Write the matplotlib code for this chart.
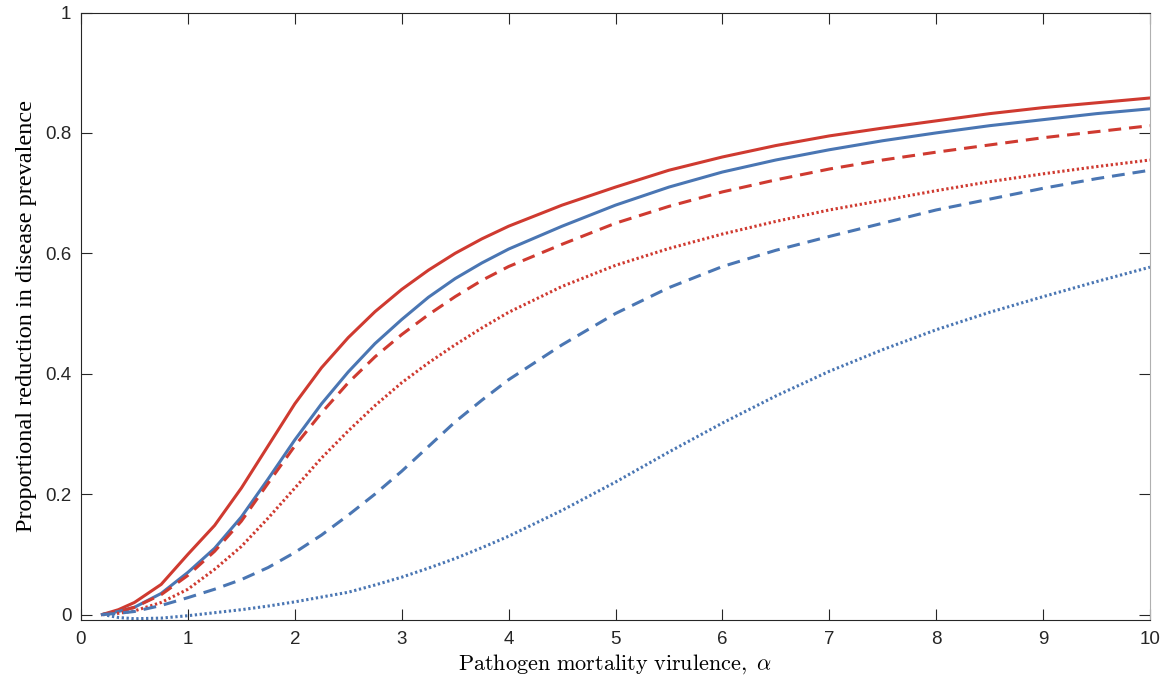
import numpy as np
import matplotlib.pyplot as plt

# virulence values (x) shared by every curve
alpha = [0.2, 0.35, 0.5, 0.75, 1.0, 1.25, 1.5, 1.75, 2.0, 2.25, 2.5, 2.75, 3.0, 3.25,
         3.5, 3.75, 4.0, 4.5, 5.0, 5.5, 6.0, 6.5, 7.0, 7.5, 8.0, 8.5, 9.0, 9.5, 10.0]

red_solid = [0.0, 0.008, 0.02, 0.05, 0.10, 0.148, 0.21, 0.28, 0.35, 0.41, 0.46, 0.503, 0.54,
             0.572, 0.60, 0.624, 0.645, 0.68, 0.71, 0.738, 0.76, 0.779, 0.795, 0.808, 0.82,
             0.832, 0.842, 0.85, 0.858]
blue_solid = [0.0, 0.005, 0.012, 0.035, 0.07, 0.11, 0.162, 0.225, 0.29, 0.35, 0.403, 0.45, 0.49,
              0.527, 0.558, 0.584, 0.607, 0.645, 0.68, 0.71, 0.735, 0.755, 0.772, 0.787, 0.80,
              0.812, 0.822, 0.832, 0.84]
red_dashed = [0.0, 0.005, 0.012, 0.033, 0.065, 0.105, 0.155, 0.218, 0.28, 0.335, 0.385, 0.428, 0.465,
              0.498, 0.528, 0.555, 0.578, 0.615, 0.65, 0.678, 0.702, 0.722, 0.74, 0.755, 0.768,
              0.78, 0.792, 0.802, 0.812]
red_dotted = [0.0, 0.002, 0.006, 0.02, 0.042, 0.075, 0.113, 0.16, 0.21, 0.26, 0.305, 0.347, 0.385,
              0.418, 0.448, 0.476, 0.502, 0.545, 0.58, 0.608, 0.632, 0.653, 0.672, 0.688, 0.704,
              0.719, 0.732, 0.744, 0.755]
blue_dashed = [0.0, 0.002, 0.005, 0.015, 0.028, 0.042, 0.058, 0.078, 0.103, 0.132, 0.165, 0.20,
               0.238, 0.279, 0.32, 0.356, 0.39, 0.448, 0.50, 0.543, 0.578, 0.605, 0.628, 0.65,
               0.672, 0.69, 0.708, 0.724, 0.738]
blue_dotted = [0.0, -0.005, -0.007, -0.006, -0.002, 0.003, 0.008, 0.014, 0.021, 0.029, 0.037,
               0.049, 0.062, 0.077, 0.093, 0.111, 0.13, 0.173, 0.22, 0.27, 0.318, 0.363, 0.404,
               0.44, 0.473, 0.502, 0.528, 0.553, 0.577]

red = '#cf3a30'
blue = '#4a76b3'
dash = (4.2, 2.6)
dot = (0.75, 0.85)

plt.rcParams['mathtext.fontset'] = 'cm'

fig = plt.figure(figsize=(11.7, 6.87), dpi=100)
ax = fig.add_axes([81 / 1170, (687 - 619.5) / 687, (1150 - 81) / 1170, (619.5 - 12.5) / 687])

lw = 2.2
ax.plot(alpha, red_solid, color=red, lw=lw)
ax.plot(alpha, blue_solid, color=blue, lw=lw)
ax.plot(alpha, red_dashed, color=red, lw=lw, dashes=dash)
ax.plot(alpha, red_dotted, color=red, lw=lw, dashes=dot)
ax.plot(alpha, blue_dashed, color=blue, lw=lw, dashes=dash)
ax.plot(alpha, blue_dotted, color=blue, lw=lw, dashes=dot)

ax.set_xlim(0, 10)
ax.set_ylim(-0.0083, 1)
ax.set_xticks(range(0, 11))
ax.set_yticks([0, 0.2, 0.4, 0.6, 0.8, 1])
ax.set_yticklabels(['0', '0.2', '0.4', '0.6', '0.8', '1'])

for s in ax.spines.values():
    s.set_color('#262626')
    s.set_linewidth(0.8)
ax.spines['right'].set_color('#b0b0b0')
ax.tick_params(direction='in', length=8, width=0.8, colors='#262626',
               top=True, right=True, labelsize=13.5)
ax.tick_params(axis='x', pad=8)
ax.tick_params(axis='y', pad=7)
for lab in ax.get_xticklabels() + ax.get_yticklabels():
    lab.set_fontfamily('Liberation Sans')

ax.set_xlabel(r'$\mathrm{Pathogen\ mortality\ virulence,}\ \alpha$', fontsize=16, labelpad=3)
ax.set_ylabel('Proportional reduction in disease prevalence', fontsize=17.5,
              fontfamily='Liberation Serif', labelpad=6)

fig.savefig('out.png', dpi=100)
